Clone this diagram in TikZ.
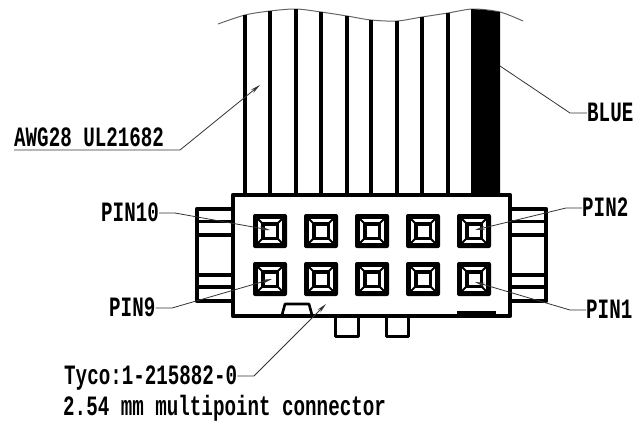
\documentclass[tikz,border=0pt]{standalone}
\usepackage{fontspec}
\usetikzlibrary{arrows.meta}
\newfontfamily\labelfont[FakeStretch=0.686]{Liberation Mono}
\tikzset{
	lbl/.style={anchor=base west,inner sep=0pt,text height=16pt,text depth=0pt,font=\labelfont\bfseries\fontsize{28}{28}\selectfont},
	leader/.style={line width=0.8pt,black!80},
	frame/.style={line width=4.2pt},
	wire/.style={line width=3.4pt}
}
\begin{document}
\begin{tikzpicture}[x=1pt,y=-1pt,line join=round,>={Stealth[length=10pt,width=4pt]}]
	\useasboundingbox (0,0) rectangle (634,421);
	\def\top{195} % mat tren cua hop
	% day cap
	\draw[line width=1pt,black!60] plot[smooth] coordinates {(218,24) (245,15) (270,11) (296,9) (321,12) (347,16) (371,20) (397,21) (422,17) (448,13) (473,9) (500,12) (523,21)};
	\foreach \xa/\ya in {245/15,270/11,321/12,347/16,371/20,397/21,422/17,448/13}
		\draw[wire] (\xa,\ya)--(\xa,\top);
	\draw[wire,line width=4.4pt] (296,9)--(296,\top);
	\fill (471,9)--(485,10)--(500,12)--(500,\top)--(471,\top)--cycle;
	% tai hai ben
	\draw[frame] (233,209)--(197,209)--(197,301)--(233,301);
	\draw[frame] (510,209)--(546,209)--(546,301)--(510,301);
	\foreach \ya/\wa in {221/3,235/3.2,275/3.2,287/4.6}{
		\draw[line width=\wa pt] (197,\ya)--(233,\ya);
		\draw[line width=\wa pt] (510,\ya)--(546,\ya);
	}
	% than connector
	\draw[frame] (233,195) rectangle (510,316);
	\draw[line width=2.6pt] (282,315)--(285,304)--(309,304)--(312,315);
	\draw[line width=5pt] (457,313)--(496,313);
	\draw[line width=3pt] (335,317)--(335,336)--(358,336)--(358,317);
	\draw[line width=3pt] (386,317)--(386,336)--(408,336)--(408,317);
	% cac chan
	\foreach \xa in {270,321,372,423,474}
		\foreach \ya in {231,279}{
			\fill[rounded corners=2pt] (\xa-17,\ya-17) rectangle (\xa+17,\ya+17);
			\fill[white] (\xa-12,\ya-12) rectangle (\xa+12,\ya+12);
			\draw[line width=1.8pt] (\xa-12,\ya-12)--(\xa+12,\ya+12) (\xa-12,\ya+12)--(\xa+12,\ya-12);
			\fill (\xa-9,\ya-9) rectangle (\xa+9,\ya+9);
			\fill[white] (\xa-5.5,\ya-5.5) rectangle (\xa+5.5,\ya+5.5);
		}
	% nhan
	\node[lbl] (awg) at (14,146) {AWG28 UL21682};
	\node[lbl] (blue) at (587,121) {BLUE};
	\node[lbl] (pinx) at (101,221) {PIN10};
	\node[lbl] (pinix) at (109,316) {PIN9};
	\node[lbl] (pinii) at (582,216) {PIN2};
	\node[lbl] (pini) at (586,318) {PIN1};
	\node[lbl] (tyco) at (64,384) {Tyco:1-215882-0};
	\node[lbl] (multi) at (63,415.5) {2.54 mm multipoint connector};
	\coordinate (awgl) at (14,150);
	\coordinate (awgr) at (180,150);
	\coordinate (awgt) at (260,85);
	\coordinate (bluea) at (570,113);
	\coordinate (bluet) at (500,66);
	\coordinate (pinxa) at (175,213);
	\coordinate (pinxt) at (270,230);
	\coordinate (pinixa) at (172,308);
	\coordinate (pinixt) at (272,279);
	\coordinate (piniia) at (566,208);
	\coordinate (piniit) at (475,230);
	\coordinate (pinia) at (570,310);
	\coordinate (pinit) at (475,282);
	\coordinate (tycoa) at (254,376);
	\coordinate (tycot) at (326,304);
	\draw[leader,->] (awgl)--(awgr)--(awgt);
	\draw[leader] (blue.west)--(bluea)--(bluet);
	\draw[leader,->] (pinx.east)--(pinxa)--(pinxt);
	\draw[leader,->] (pinix.east)--(pinixa)--(pinixt);
	\draw[leader,->] (pinii.west)--(piniia)--(piniit);
	\draw[leader,->] (pini.west)--(pinia)--(pinit);
	\draw[leader,->] (tyco.east)--(tycoa)--(tycot);
\end{tikzpicture}
\end{document}
